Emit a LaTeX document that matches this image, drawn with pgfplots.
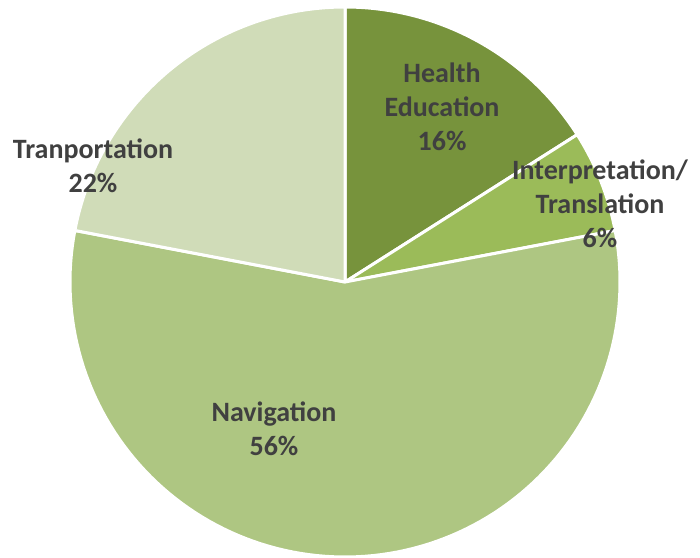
\documentclass[border=0pt]{standalone}
\usepackage{pgfplots}
\usepackage{pgfplotstable}
\pgfplotsset{compat=1.18}
\usepackage{fontspec}
\setmainfont{Carlito}
\definecolor{cHealth}{HTML}{77933C}
\definecolor{cInterp}{HTML}{9BBB59}
\definecolor{cNav}{HTML}{AEC682}
\definecolor{cTrans}{HTML}{D0DCB8}
\definecolor{txt}{HTML}{404040}
% percentages, clockwise from 12 o'clock
\pgfplotstableread{
name value
Health 16
Interp 6
Nav 56
Trans 22
}\piedata
\pgfplotstablegetelem{0}{value}\of\piedata \let\vA\pgfplotsretval
\pgfplotstablegetelem{1}{value}\of\piedata \let\vB\pgfplotsretval
\pgfplotstablegetelem{2}{value}\of\piedata \let\vC\pgfplotsretval
\pgfplotstablegetelem{3}{value}\of\piedata \let\vD\pgfplotsretval
\pgfmathsetmacro\aA{90}
\pgfmathsetmacro\aB{\aA-3.6*\vA}
\pgfmathsetmacro\aC{\aB-3.6*\vB}
\pgfmathsetmacro\aD{\aC-3.6*\vC}
\pgfmathsetmacro\aE{\aD-3.6*\vD}
\begin{document}
\begin{tikzpicture}
\begin{axis}[
  width=350pt, height=278.5pt, scale only axis,
  xmin=0, xmax=700, ymin=0, ymax=557,
  hide axis, clip=false,
  every axis plot/.append style={draw=white, line width=1.5pt, line join=round, samples=120, mark=none},
]
\addplot[fill=cHealth, domain=\aB:\aA] ({345+275*cos(x)},{275+275*sin(x)}) -- (axis cs:345,275) -- cycle;
\addplot[fill=cInterp, domain=\aC:\aB] ({345+275*cos(x)},{275+275*sin(x)}) -- (axis cs:345,275) -- cycle;
\addplot[fill=cNav, domain=\aD:\aC] ({345+275*cos(x)},{275+275*sin(x)}) -- (axis cs:345,275) -- cycle;
\addplot[fill=cTrans, domain=\aE:\aD] ({345+275*cos(x)},{275+275*sin(x)}) -- (axis cs:345,275) -- cycle;
\begin{scope}[every node/.style={align=center, text=txt, font=\fontsize{14}{17}\selectfont\bfseries}]
\node at (axis cs:442,450) {Health\\Education\\16\%};
\node at (axis cs:600,353) {Interpretation/\\Translation\\6\%};
\node at (axis cs:93,391) {Tranportation\\22\%};
\node at (axis cs:274,128) {Navigation\\56\%};
\end{scope}
\end{axis}
\pgfresetboundingbox
\path[use as bounding box] (current axis.south west) rectangle (current axis.north east);
\end{tikzpicture}
\end{document}
